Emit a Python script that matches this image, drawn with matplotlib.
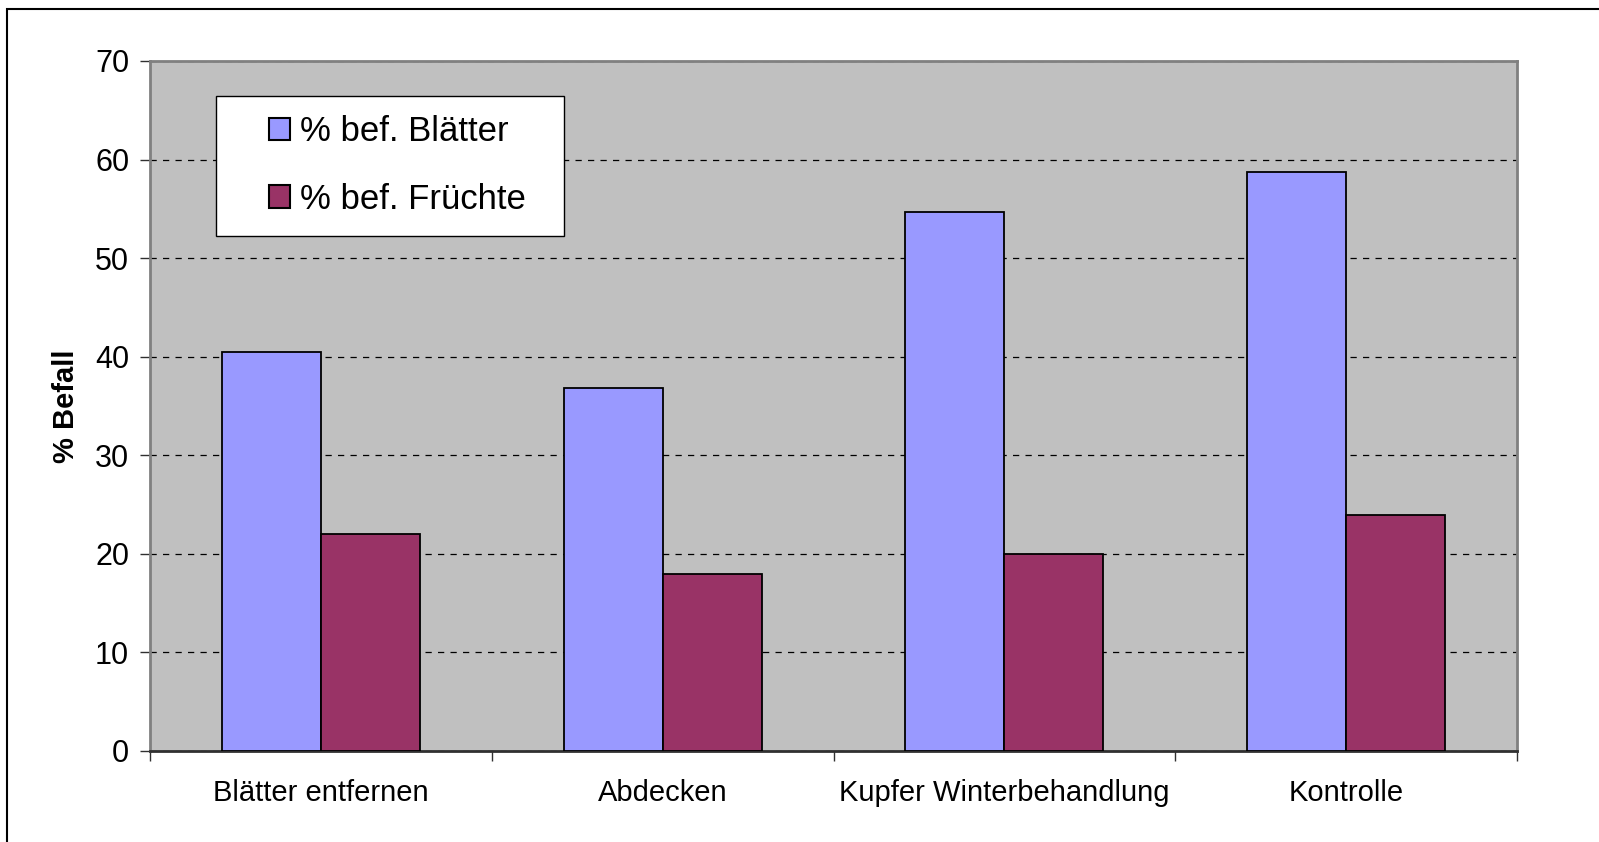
import numpy as np
import matplotlib.pyplot as plt
from matplotlib.patches import Rectangle

plt.rcParams['font.family'] = ['Liberation Sans', 'DejaVu Sans']

categories = ["Blätter entfernen", "Abdecken", "Kupfer Winterbehandlung", "Kontrolle"]
blaetter = [40.5, 36.8, 54.7, 58.7]
fruechte = [22.0, 18.0, 20.0, 23.9]
series_names = ["% bef. Blätter", "% bef. Früchte"]
y_ticks = [0, 10, 20, 30, 40, 50, 60, 70]

fig = plt.figure(figsize=(15.99, 8.42), dpi=100)
ax = fig.add_axes([150 / 1599, 1 - 751 / 842, 1367 / 1599, 690 / 842])
ax.set_facecolor("#C0C0C0")

x = np.arange(len(categories))
w = 0.29
ax.bar(x - w / 2, blaetter, w, color="#9999FF", edgecolor="black", linewidth=1.3,
       label=series_names[0], zorder=3)
ax.bar(x + w / 2, fruechte, w, color="#993366", edgecolor="black", linewidth=1.3,
       label=series_names[1], zorder=3)

ax.set_xlim(-0.5, len(categories) - 0.5)
ax.set_ylim(0, 70)
ax.set_yticks(y_ticks)
ax.set_yticklabels([str(t) for t in y_ticks], fontsize=22)
ax.tick_params(axis="y", direction="out", length=7, width=1, color="#303030", pad=8)

ax.set_xticks(x)
ax.set_xticklabels(categories, fontsize=21)
ax.set_xticks(np.arange(-0.5, len(categories)), minor=True)
ax.tick_params(axis="x", which="major", length=0, pad=20)
ax.tick_params(axis="x", which="minor", length=7, width=1, color="#303030")

ax.yaxis.grid(True, color="black", linestyle=(0, (5, 5)), linewidth=0.9, zorder=1)
ax.set_axisbelow(True)

for side in ["top", "left", "right"]:
    ax.spines[side].set_color("#808080")
    ax.spines[side].set_linewidth(2)
ax.spines["bottom"].set_color("#303030")
ax.spines["bottom"].set_linewidth(2)

ax.set_ylabel("% Befall", fontsize=21, fontweight="bold", labelpad=11)

# legend box
box = Rectangle((216 / 1599, 1 - 236 / 842), 348 / 1599, 140 / 842,
                transform=fig.transFigure, facecolor="white", edgecolor="black",
                linewidth=1, zorder=4)
ax.add_artist(box)
leg = ax.legend(loc="upper left", bbox_to_anchor=(269 / 1599, 1 - 115 / 842),
                bbox_transform=fig.transFigure, frameon=False, fontsize=25,
                handlelength=0.6, handleheight=0.6, handletextpad=0.3,
                labelspacing=1.0, borderpad=0, borderaxespad=0)
leg.set_zorder(5)
for h in leg.legend_handles:
    h.set_linewidth(1.5)

# outer chart border (top and left visible)
fig.patches.append(Rectangle((7 / 1599, -0.5), 1.5, 1.5 - 9 / 842,
                             transform=fig.transFigure, fill=False,
                             edgecolor="black", linewidth=1.5))

fig.savefig("out.png", dpi=100)
